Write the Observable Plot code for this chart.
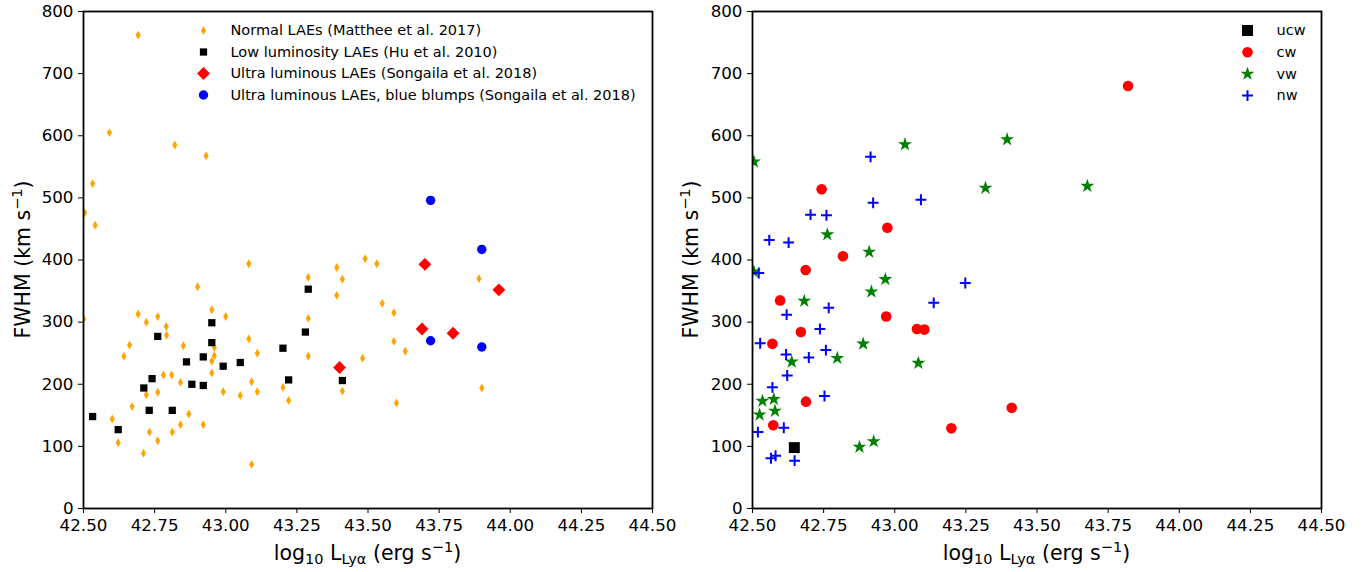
<!DOCTYPE html>
<html>
<head>
<meta charset="utf-8">
<script src="https://cdn.jsdelivr.net/npm/d3@7"></script>
<script src="https://cdn.jsdelivr.net/npm/@observablehq/plot@0.6"></script>
<style>
  html, body { margin: 0; padding: 0; background: #fff; }
  #wrap { display: flex; width: 1370px; height: 572px; }
  svg { font-family: "DejaVu Sans", sans-serif; }
</style>
</head>
<body>
<div id="wrap"></div>
<script>
// ---------- data ----------
const xTicks = [42.50, 42.75, 43.00, 43.25, 43.50, 43.75, 44.00, 44.25, 44.50];
const yTicks = [0, 100, 200, 300, 400, 500, 600, 700, 800];

// Left panel
const normalX = [42.692,42.591,42.532,42.821,42.931,42.504,42.541,43.490,43.081,42.501,42.601,42.622,42.642,42.662,42.671,42.692,42.711,42.721,42.721,42.732,42.761,42.761,42.761,42.781,42.791,42.792,42.810,42.812,42.841,42.841,42.851,42.870,42.901,42.921,42.951,42.951,42.951,42.960,42.960,42.991,43.000,43.051,43.081,43.091,43.091,43.111,43.111,43.201,43.221,43.290,43.290,43.290,43.390,43.390,43.410,43.410,43.481,43.531,43.550,43.591,43.591,43.631,43.600,43.890,43.900];
const normalY = [762,605,523,585,568,476,456,402,394,305,144,106,245,263,164,313,89,300,183,123,309,187,109,215,293,279,215,123,203,135,262,152,357,135,320,218,237,259,246,188,309,182,273,204,71,250,188,195,174,372,306,245,388,343,369,189,242,394,330,315,269,253,170,370,194];

const lowX = [42.532,42.622,42.712,42.731,42.741,42.761,42.812,42.862,42.881,42.921,42.921,42.951,42.951,42.991,43.051,43.201,43.221,43.280,43.290,43.410];
const lowY = [148,127,194,158,209,277,158,236,200,244,198,299,267,229,235,258,207,284,353,206];

const ultraX = [43.400,43.700,43.690,43.799,43.960];
const ultraY = [227,393,289,282,352];

const blueX = [43.720,43.720,43.900,43.900];
const blueY = [496,270,417,260];

// Right panel
const ucwX = [42.647];
const ucwY = [98];
const cwX = [43.820,42.743,42.974,42.818,43.411,42.687,42.597,42.970,43.078,43.104,42.670,42.570,42.688,42.573,43.199];
const cwY = [680,514,452,406,162,384,335,309,289,288,284,265,172,134,129];
const vwX = [42.505,43.036,43.395,43.319,43.677,42.763,42.910,42.505,42.967,42.918,42.682,42.889,42.638,42.798,43.083,42.535,42.575,42.579,42.525,42.876,42.926];
const vwY = [558,586,594,516,519,441,413,381,369,349,334,265,236,242,234,173,176,157,151,99,108];
const nwX = [42.915,42.924,43.092,42.704,42.760,42.559,42.627,42.522,43.248,43.137,42.768,42.620,42.737,42.527,42.618,42.758,42.698,42.622,42.570,42.753,42.610,42.519,42.565,42.581,42.648];
const nwY = [566,492,497,473,472,432,428,379,363,331,323,312,289,266,248,255,243,214,195,181,130,123,81,85,77];

const leftNames = ["Normal LAEs (Matthee et al. 2017)", "Low luminosity LAEs (Hu et al. 2010)", "Ultra luminous LAEs (Songaila et al. 2018)", "Ultra luminous LAEs, blue blumps (Songaila et al. 2018)"];
const rightNames = ["ucw", "cw", "vw", "nw"];

// ---------- styles (not data) ----------
const leftStyles = [
  {symbol: "diamond", fill: "#ffa500", r: 2.7},
  {symbol: "square", fill: "#000000", r: 4.1},
  {symbol: "diamond2", fill: "#ff0000", r: 5.8},
  {symbol: "circle", fill: "#0000ff", r: 4.7}
];
const rightStyles = [
  {symbol: "square", fill: "#000000", r: 6.2},
  {symbol: "circle", fill: "#ff0000", r: 5.3},
  {symbol: "star", fill: "#008000", r: 4.4},
  {symbol: "plus", stroke: "#0000ff", r: 3.6, strokeWidth: 2}
];

const zip = (xs, ys) => xs.map((x, i) => ({x, y: ys[i]}));
const leftSeries = [zip(normalX, normalY), zip(lowX, lowY), zip(ultraX, ultraY), zip(blueX, blueY)];
const rightSeries = [zip(ucwX, ucwY), zip(cwX, cwY), zip(vwX, vwY), zip(nwX, nwY)];

function styleOpts(s) {
  return s.stroke
    ? {symbol: s.symbol, stroke: s.stroke, fill: "none", r: s.r, strokeWidth: s.strokeWidth}
    : {symbol: s.symbol, fill: s.fill, stroke: "none", r: s.r};
}

function panel({series, styles, names, marginLeft, marginRight, legDx, legTextDx, legDy0, legStep, legFont}) {
  const marks = [];
  series.forEach((data, i) => {
    marks.push(Plot.dot(data, {x: "x", y: "y", clip: true, ...styleOpts(styles[i])}));
  });
  names.forEach((name, i) => {
    marks.push(Plot.dot([name], {frameAnchor: "top-left", dx: legDx, dy: legDy0 + i * legStep, ...styleOpts(styles[i])}));
    marks.push(Plot.text([name], {frameAnchor: "top-left", dx: legTextDx, dy: legDy0 + i * legStep, text: d => d, textAnchor: "start", lineAnchor: "middle", fontSize: legFont, fill: "black"}));
  });
  marks.push(Plot.axisX({ticks: xTicks, tickFormat: d => d.toFixed(2), tickSize: 5, tickPadding: 6, label: null, fontSize: 16.7}));
  marks.push(Plot.axisY({ticks: yTicks, tickFormat: d => String(d), tickSize: 5, tickPadding: 5, label: null, fontSize: 16.7}));
  marks.push(Plot.frame({stroke: "black", strokeWidth: 1.8}));
  return Plot.plot({
    width: 685,
    height: 572,
    marginLeft, marginRight,
    marginTop: 11,
    marginBottom: 64,
    x: {domain: [42.5, 44.5]},
    y: {domain: [0, 800]},
    style: {fontFamily: "DejaVu Sans", color: "black", background: "white", overflow: "visible"},
    marks
  });
}

function addLabels(svg, xc, yBase, yLabelX, yc) {
  const s = d3.select(svg);
  const xl = s.append("text")
    .attr("x", xc).attr("y", yBase)
    .attr("text-anchor", "middle")
    .attr("font-family", "DejaVu Sans")
    .attr("font-size", 20.5)
    .attr("fill", "black");
  xl.append("tspan").text("log");
  xl.append("tspan").attr("dy", 4).attr("font-size", 14.5).text("10");
  xl.append("tspan").attr("dy", -4).text(" L");
  xl.append("tspan").attr("dy", 4).attr("font-size", 14.5).text("Lyα");
  xl.append("tspan").attr("dy", -4).text(" (erg s");
  xl.append("tspan").attr("dy", -8).attr("font-size", 14.5).text("−1");
  xl.append("tspan").attr("dy", 8).text(")");

  const yl = s.append("text")
    .attr("transform", `translate(${yLabelX},${yc}) rotate(-90)`)
    .attr("text-anchor", "middle")
    .attr("font-family", "DejaVu Sans")
    .attr("font-size", 20.5)
    .attr("fill", "black");
  yl.append("tspan").text("FWHM (km s");
  yl.append("tspan").attr("dy", -8).attr("font-size", 14.5).text("−1");
  yl.append("tspan").attr("dy", 8).text(")");
}

const left = panel({series: leftSeries, styles: leftStyles, names: leftNames, marginLeft: 83, marginRight: 33,
  legDx: 120, legTextDx: 147, legDy0: 19, legStep: 21.5, legFont: 14.5});
const right = panel({series: rightSeries, styles: rightStyles, names: rightNames, marginLeft: 67, marginRight: 49,
  legDx: 495, legTextDx: 524, legDy0: 19, legStep: 21.7, legFont: 14.5});

addLabels(left, 367.5, 560, 30, 259.5);
addLabels(right, 351.5, 560, 13, 259.5);

document.getElementById("wrap").append(left, right);
</script>
</body>
</html>
